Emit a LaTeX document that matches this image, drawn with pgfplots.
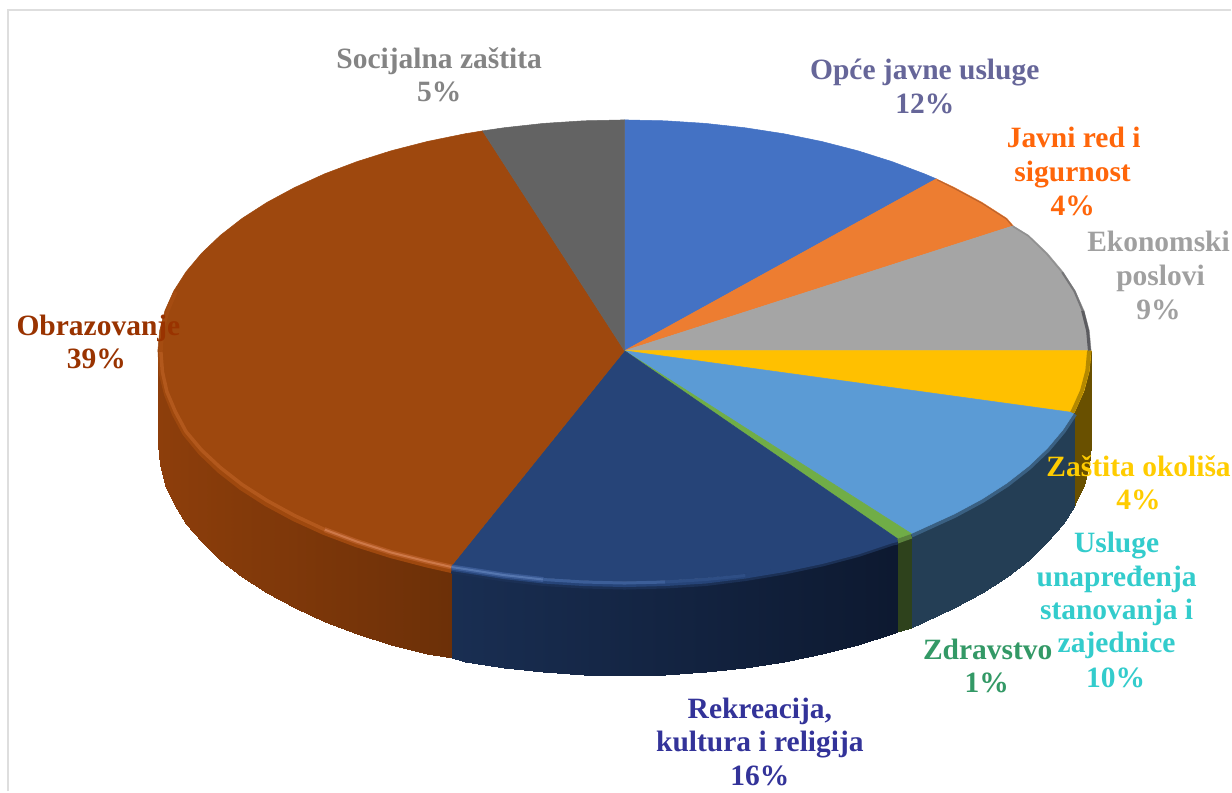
\documentclass[border=0pt]{standalone}
\usepackage{pgfplots}
\usepackage{pgfplotstable}
\pgfplotsset{compat=1.18}
\usepackage{fontspec}
\setmainfont{Liberation Serif}
% rim of each slice, in picture pixels
\pgfplotstableread{
x y
625 120
665.7 120.9
706.1 123.5
745.9 127.9
784.7 133.9
822.4 141.6
858.5 150.9
892.9 161.8
925.2 174
937 179
}\aBlue
\pgfplotstableread{
x y
937 179
955.2 187.7
982.7 202.5
1007.6 218.5
1014 226
}\aOrange
\pgfplotstableread{
x y
1014 226
1029.4 235.5
1048.2 253.4
1063.8 272
1076.1 291.2
1084.9 310.9
1090.2 330.9
1092 351
}\aGray
\pgfplotstableread{
x y
1092 351
1090.2 371.1
1084.9 391.1
1076.1 410.8
1075 413
}\aYellow
\pgfplotstableread{
x y
1075 413
1063.8 430
1048.2 448.6
1029.4 466.5
1007.6 483.5
982.7 499.5
955.2 514.3
925.2 528
912 534
}\aLight
\pgfplotstableread{
x y
912 534
898 539
}\aGreen
\pgfplotstableread{
x y
898 539
892.9 540.2
858.5 551.1
822.4 560.4
784.7 568.1
745.9 574.1
706.1 578.5
665.7 581.1
625 582
584.3 581.1
543.9 578.5
504.1 574.1
465.3 568.1
452 566
}\aNavy
\pgfplotstableread{
x y
452 566
427.6 560.4
391.5 551.1
357.1 540.2
324.8 528
294.8 514.3
267.3 499.5
242.4 483.5
220.6 466.5
201.8 448.6
186.2 430
173.9 410.8
165.1 391.1
159.8 371.1
158 351
159.8 330.9
165.1 310.9
173.9 291.2
186.2 272
201.8 253.4
220.6 235.5
242.4 218.5
267.3 202.5
294.8 187.7
324.8 174
357.1 161.8
391.5 150.9
427.6 141.6
465.3 133.9
483 131
}\aBrown
\pgfplotstableread{
x y
483 131
504.1 127.9
543.9 123.5
584.3 120.9
625 120
}\aDark
% inner edge of the bevel
\pgfplotstableread{
x y
898 541
892.9 542
858.5 553.5
822.4 563
784.7 571
745.9 577.5
706.1 582.5
665.7 585
625 586
584.3 585
543.9 582.5
504.1 578
465.3 572
452 570
}\bNavy
\pgfplotstableread{
x y
452 569.5
427.6 564
391.5 554.6
357.1 543.7
324.8 531.5
294.8 517.8
267.3 503
242.4 487
220.6 470
201.8 452
186.2 433
176 414
168 394
163 374
162 355
}\bBrown
% side walls: x, y of the rim, y of the foot, shade
\pgfplotstableread{
x y c
158 351 0
158 445 0
159.8 371.1 .01
159.8 465.1 .01
165.1 391.1 .02
165.1 485.1 .02
173.9 410.8 .05
173.9 504.8 .05
186.2 430 .10
186.2 524 .10
201.8 448.6 .15
201.8 542.6 .15
220.6 466.5 .21
220.6 560.5 .21
242.4 483.5 .29
242.4 577.5 .29
267.3 499.5 .37
267.3 593.5 .37
294.8 514.3 .46
294.8 608.3 .46
324.8 528 .57
324.8 622 .57
357.1 540.2 .68
357.1 634.2 .68
391.5 551.1 .79
391.5 645.1 .79
427.6 560.4 .92
427.6 654.4 .92
452 566 1
452 659 1
}\sBrown
\pgfplotstableread{
x y c
452 566 0
452 659 0
465.3 568.1 .03
465.3 662.1 .03
504.1 574.1 .12
504.1 668.1 .12
543.9 578.5 .21
543.9 672.5 .21
584.3 581.1 .30
584.3 675.1 .30
625 582 .39
625 676 .39
665.7 581.1 .48
665.7 675.1 .48
706.1 578.5 .57
706.1 672.5 .57
745.9 574.1 .66
745.9 668.1 .66
784.7 568.1 .75
784.7 662.1 .75
822.4 560.4 .83
822.4 654.4 .83
858.5 551.1 .91
858.5 645.1 .91
892.9 540.2 .99
892.9 634.2 .99
898 539 1
898 633 1
}\sNavy
\pgfplotstableread{
x y c
898 539 0
898 633 0
912 534 1
912 628 1
}\sGreen
\pgfplotstableread{
x y c
912 534 0
912 628 0
925.2 528 .08
925.2 622 .08
955.2 514.3 .26
955.2 608.3 .26
982.7 499.5 .43
982.7 593.5 .43
1007.6 483.5 .58
1007.6 577.5 .58
1029.4 466.5 .72
1029.4 560.5 .72
1048.2 448.6 .83
1048.2 542.6 .83
1063.8 430 .93
1063.8 524 .93
1075 413 1
1075 507 1
}\sLight
\pgfplotstableread{
x y c
1075 413 0
1075 507 0
1076.1 410.8 .06
1076.1 504.8 .06
1084.9 391.1 .58
1084.9 485.1 .58
1090.2 371.1 .89
1090.2 465.1 .89
1092 351 1
1092 445 1
}\sYellow
\newcommand\lab[4]{\node[anchor=base,text=#3,inner sep=0pt,xshift=1.5pt,font=\fontsize{29.5}{34}\selectfont\bfseries] at (axis cs:#1,#2) {#4};}
\definecolor{fBlue}{RGB}{68,114,196}
\definecolor{fOrange}{RGB}{237,125,49}
\definecolor{fGray}{RGB}{165,165,165}
\definecolor{fYellow}{RGB}{255,192,0}
\definecolor{fLight}{RGB}{91,155,213}
\definecolor{fGreen}{RGB}{112,173,71}
\definecolor{fNavy}{RGB}{38,68,120}
\definecolor{fBrown}{RGB}{158,72,14}
\definecolor{fDark}{RGB}{99,99,99}
\definecolor{tSoc}{RGB}{132,132,132}
\definecolor{tOpc}{RGB}{102,102,153}
\definecolor{tJav}{RGB}{255,102,10}
\definecolor{tEko}{RGB}{160,160,160}
\definecolor{tZas}{RGB}{255,204,0}
\definecolor{tUsl}{RGB}{51,204,204}
\definecolor{tZdr}{RGB}{51,153,102}
\definecolor{tRek}{RGB}{51,51,153}
\definecolor{tObr}{RGB}{153,51,0}
\begin{document}
\begin{tikzpicture}
\begin{axis}[
  at={(0,0)},anchor=south west,
  width=1232pt,height=792pt,scale only axis,
  xmin=0,xmax=1232,ymin=0,ymax=792,y dir=reverse,
  hide axis,clip=false,
  point meta min=0,point meta max=1,
  colormap={cBrown}{rgb255=(141,62,11) rgb255=(108,48,8)},
  colormap={cNavy}{rgb255=(25,46,82) rgb255=(13,25,48)},
  colormap={cGreen}{rgb255=(46,66,28) rgb255=(46,66,28)},
  colormap={cLight}{rgb255=(36,62,85) rgb255=(36,62,85)},
  colormap={cYellow}{rgb255=(105,80,0) rgb255=(105,80,0)},
  every axis plot post/.append style={mark=none},
]
\addplot[draw=none,fill=white,forget plot] coordinates {(0,0)(1232,0)(1232,792)(0,792)} -- cycle;
\addplot[draw={rgb,255:red,222;green,222;blue,222},line width=2pt,forget plot] coordinates {(8,792)(8,10)(1232,10)};
% walls
\addplot[surf,shader=interp,colormap name=cYellow,mesh/cols=2,point meta=explicit] table[meta=c] {\sYellow};
\addplot[surf,shader=interp,colormap name=cLight,mesh/cols=2,point meta=explicit] table[meta=c] {\sLight};
\addplot[surf,shader=interp,colormap name=cGreen,mesh/cols=2,point meta=explicit] table[meta=c] {\sGreen};
\addplot[surf,shader=interp,colormap name=cNavy,mesh/cols=2,point meta=explicit] table[meta=c] {\sNavy};
\addplot[surf,shader=interp,colormap name=cBrown,mesh/cols=2,point meta=explicit] table[meta=c] {\sBrown};
% bevel below the rim
\addplot[draw={rgb,255:red,58;green,96;blue,130},line width=6pt] table[y expr=\thisrow{y}+1] {\aLight};
\addplot[draw={rgb,255:red,90;green,130;blue,60},line width=6pt] table[y expr=\thisrow{y}+2] {\aGreen};
\addplot[draw={rgb,255:red,27;green,48;blue,85},line width=8pt] table {\bNavy};
\addplot[draw=fNavy,line width=5pt] table[y expr=\thisrow{y}-1] {\bNavy};
\addplot[draw=fBrown,line width=8pt] table {\bBrown};
% faces
\addplot[fill=fBlue,draw=fBlue,line width=.5pt] table {\aBlue} -- (axis cs:625,351) -- cycle;
\addplot[fill=fOrange,draw=fOrange,line width=.5pt] table {\aOrange} -- (axis cs:625,351) -- cycle;
\addplot[fill=fGray,draw=fGray,line width=.5pt] table {\aGray} -- (axis cs:625,351) -- cycle;
\addplot[fill=fYellow,draw=fYellow,line width=.5pt] table {\aYellow} -- (axis cs:625,351) -- cycle;
\addplot[fill=fLight,draw=fLight,line width=.5pt] table {\aLight} -- (axis cs:625,351) -- cycle;
\addplot[fill=fGreen,draw=fGreen,line width=.5pt] table {\aGreen} -- (axis cs:625,351) -- cycle;
\addplot[fill=fNavy,draw=fNavy,line width=.5pt] table {\aNavy} -- (axis cs:625,351) -- cycle;
\addplot[fill=fBrown,draw=fBrown,line width=.5pt] table {\aBrown} -- (axis cs:625,351) -- cycle;
\addplot[fill=fDark,draw=fDark,line width=.5pt] table {\aDark} -- (axis cs:625,351) -- cycle;
% shaded rims
\addplot[draw={rgb,255:red,185;green,98;blue,45},line width=1pt] coordinates {(938,180)(955,188.5)(982.5,203.3)(1007,219)(1013,226)};
\addplot[draw={rgb,255:red,145;green,145;blue,145},line width=1.5pt] coordinates {(1013.5,226.5)(1029,236)(1047.5,254)(1063,272.5)};
\addplot[draw={rgb,255:red,118;green,118;blue,120},line width=2pt] coordinates {(1063,272.5)(1075.3,291.5)(1083.5,311)};
\addplot[draw={rgb,255:red,92;green,92;blue,96},line width=3pt] coordinates {(1083.5,311)(1088.5,331)(1090.3,351)};
\addplot[draw={rgb,255:red,180;green,137;blue,0},line width=4pt] table[x expr=\thisrow{x}-2] {\aYellow};
% highlight
\addplot[draw={rgb,255:red,180;green,90;blue,35},line width=5pt] coordinates {(452,567.5)(427.6,562)(391.5,553)(357.1,542)(324.8,530)};
\addplot[draw={rgb,255:red,205;green,120;blue,72},line width=2pt] coordinates {(452,567.5)(427.6,562)(391.5,553)(357.1,542)(324.8,530)};
\addplot[draw={rgb,255:red,178;green,88;blue,28},line width=3.5pt] coordinates {(324.8,530)(294.8,516)(267.3,501)(242.4,485)(220.6,468)(201.8,450.5)(186.2,432)(175.5,412)(167,392)(162.5,372)(161,352)};
\addplot[draw={rgb,255:red,165;green,76;blue,17},line width=3.5pt] coordinates {(161,352)(162.5,331)(168,311)(176,292)};
\addplot[draw={rgb,255:red,58;green,90;blue,148},line width=5pt] coordinates {(452,567.5)(465.3,569.5)(504.1,575.5)(543.9,580)};
\addplot[draw={rgb,255:red,85;green,118;blue,175},line width=2pt] coordinates {(452,567.5)(465.3,569.5)(504.1,575.5)(543.9,580)};
\addplot[draw={rgb,255:red,60;green,94;blue,152},line width=3pt] coordinates {(543.9,580)(584.3,582.5)(625,583.5)(665.7,582.5)};
\addplot[draw={rgb,255:red,46;green,78;blue,133},line width=3pt] coordinates {(665.7,582.5)(706.1,580)(745.9,576)};
% labels
\lab{438}{68.5}{tSoc}{Socijalna zaštita}
\lab{438}{102}{tSoc}{5\%}
\lab{924}{79.5}{tOpc}{Opće javne usluge}
\lab{924}{114}{tOpc}{12\%}
\lab{1073}{147.5}{tJav}{Javni red i}
\lab{1072}{181.5}{tJav}{sigurnost}
\lab{1072}{215.5}{tJav}{4\%}
\lab{1158}{252}{tEko}{Ekonomski}
\lab{1160}{286}{tEko}{poslovi}
\lab{1158}{319.5}{tEko}{9\%}
\lab{1138}{477}{tZas}{Zaštita okoliša}
\lab{1138}{510}{tZas}{4\%}
\lab{1116}{553}{tUsl}{Usluge}
\lab{1116}{587}{tUsl}{unapređenja}
\lab{1116}{620}{tUsl}{stanovanja i}
\lab{1116}{653}{tUsl}{zajednice}
\lab{1115}{688}{tUsl}{10\%}
\lab{987}{660}{tZdr}{Zdravstvo}
\lab{986}{693}{tZdr}{1\%}
\lab{759}{719}{tRek}{Rekreacija,}
\lab{759}{752}{tRek}{kultura i religija}
\lab{759}{786}{tRek}{16\%}
\lab{97}{336}{tObr}{Obrazovanje}
\lab{95}{369}{tObr}{39\%}
\end{axis}
\end{tikzpicture}
\end{document}
